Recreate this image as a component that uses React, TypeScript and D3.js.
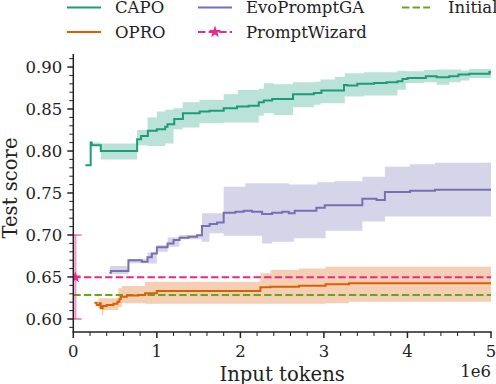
import React from 'react';
import * as d3 from 'd3';

// x values are input tokens in millions (axis shows the 1e6 offset)
const capoTokens = [0.144, 0.208, 0.22, 0.329, 0.764, 0.812, 0.893, 1.0, 1.1, 1.128, 1.208, 1.312, 1.512, 1.632, 1.8, 1.96, 2.1, 2.22, 2.28, 2.38, 2.63, 2.88, 2.97, 3.24, 3.28, 3.4, 3.6, 3.75, 3.88, 3.94, 4.0, 4.22, 4.35, 4.5, 4.61, 4.74, 4.98, 5.0];
const capoScore = [0.783, 0.810, 0.807, 0.800, 0.814, 0.818, 0.824, 0.826, 0.829, 0.832, 0.838, 0.845, 0.847, 0.848, 0.851, 0.853, 0.854, 0.858, 0.860, 0.862, 0.8675, 0.869, 0.872, 0.8786, 0.878, 0.880, 0.881, 0.882, 0.883, 0.8857, 0.887, 0.889, 0.8877, 0.889, 0.891, 0.892, 0.894, 0.894];
const capoBandTokens = [0.208, 0.329, 0.764, 0.89, 1.0, 1.1, 1.2, 1.31, 1.51, 1.8, 1.97, 2.22, 2.28, 2.4, 2.63, 2.88, 2.96, 3.13, 3.25, 3.48, 3.88, 3.98, 4.2, 4.35, 4.5, 4.64, 4.74, 5.0];
const capoLower = [0.806, 0.790, 0.807, 0.806, 0.806, 0.809, 0.826, 0.828, 0.833, 0.834, 0.834, 0.842, 0.845, 0.843, 0.852, 0.855, 0.857, 0.857, 0.865, 0.866, 0.873, 0.881, 0.882, 0.879, 0.882, 0.884, 0.887, 0.887];
const capoUpper = [0.810, 0.809, 0.825, 0.840, 0.847, 0.849, 0.851, 0.858, 0.861, 0.8675, 0.8726, 0.874, 0.8806, 0.8794, 0.8818, 0.8825, 0.885, 0.888, 0.8925, 0.8937, 0.8956, 0.895, 0.8964, 0.897, 0.897, 0.896, 0.8976, 0.8976];

const evoTokens = [0.432, 0.45, 0.66, 0.82, 0.888, 0.94, 1.0, 1.128, 1.2, 1.272, 1.38, 1.48, 1.54, 1.632, 1.72, 1.8, 1.94, 2.04, 2.14, 2.26, 2.38, 2.5, 2.58, 2.65, 2.91, 3.01, 3.46, 3.63, 3.73, 4.03, 4.33, 5.0];
const evoScore = [0.655, 0.657, 0.670, 0.668, 0.6735, 0.678, 0.6853, 0.690, 0.694, 0.6968, 0.698, 0.6996, 0.7107, 0.713, 0.715, 0.7266, 0.7278, 0.729, 0.7278, 0.725, 0.7266, 0.7278, 0.7258, 0.729, 0.7325, 0.7354, 0.7432, 0.7417, 0.7512, 0.7528, 0.754, 0.754];
const evoBandTokens = [0.44, 0.66, 0.89, 1.0, 1.13, 1.27, 1.54, 1.63, 1.8, 2.06, 2.26, 2.38, 2.58, 2.64, 2.92, 3.02, 3.12, 3.46, 3.73, 4.03, 4.33, 5.0];
const evoLower = [0.6536, 0.6663, 0.666, 0.680, 0.686, 0.695, 0.692, 0.702, 0.699, 0.699, 0.690, 0.692, 0.692, 0.696, 0.696, 0.705, 0.705, 0.716, 0.722, 0.722, 0.722, 0.722];
const evoUpper = [0.663, 0.671, 0.679, 0.688, 0.697, 0.700, 0.7258, 0.726, 0.7575, 0.7615, 0.7615, 0.7615, 0.760, 0.760, 0.7627, 0.7627, 0.764, 0.7694, 0.7813, 0.7842, 0.786, 0.786];

const oproTokens = [0.252, 0.28, 0.312, 0.328, 0.352, 0.4, 0.48, 0.528, 0.552, 0.568, 0.64, 0.78, 0.86, 1.0, 2.24, 2.36, 2.7, 3.02, 3.3, 5.0];
const oproScore = [0.6194, 0.6167, 0.6187, 0.6127, 0.6155, 0.6167, 0.618, 0.6206, 0.6234, 0.6266, 0.628, 0.6286, 0.6306, 0.6333, 0.6378, 0.6385, 0.6396, 0.6413, 0.6425, 0.6425];
const oproBandTokens = [0.30, 0.34, 0.36, 0.54, 0.58, 0.86, 2.24, 2.36, 2.7, 3.02, 3.3, 5.0];
const oproLower = [0.6127, 0.6048, 0.6107, 0.614, 0.6187, 0.618, 0.618, 0.618, 0.618, 0.6187, 0.6206, 0.6206];
const oproUpper = [0.6246, 0.6246, 0.6246, 0.6365, 0.6393, 0.6444, 0.6544, 0.6583, 0.660, 0.6623, 0.6623, 0.6623];

// PromptWizard: single point with error bar
const wizardTokens = 0.025;
const wizardScore = 0.6496;
const wizardErr = [0.60, 0.70];
const initialScore = 0.6286;

const xTickLabels = ['0', '1', '2', '3', '4', '5'];
const yTickLabels = ['0.60', '0.65', '0.70', '0.75', '0.80', '0.85', '0.90'];

const legendLabels = ['CAPO', 'OPRO', 'EvoPromptGA', 'PromptWizard', 'Initial'];
const colors = {
  CAPO: '#1b9e77',
  OPRO: '#d95f02',
  EvoPromptGA: '#7570b3',
  PromptWizard: '#e7298a',
  Initial: '#66a61e',
};

const W = 496;
const H = 384;
const FONT = '"DejaVu Serif", serif';

const x = d3.scaleLinear().domain([0, 5]).range([73.3, 491]);
const y = d3.scaleLinear().domain([0.5845, 0.9155]).range([332, 54]);

const stepLine = d3
  .line<[number, number]>()
  .x(d => x(d[0]))
  .y(d => y(d[1]))
  .curve(d3.curveStepAfter);

const stepArea = d3
  .area<[number, number, number]>()
  .x(d => x(d[0]))
  .y0(d => y(d[1]))
  .y1(d => y(d[2]))
  .curve(d3.curveStepAfter);

const zipLine = (xs: number[], ys: number[]) => xs.map((v, i) => [v, ys[i]] as [number, number]);
const zipBand = (xs: number[], lo: number[], hi: number[]) =>
  xs.map((v, i) => [v, lo[i], hi[i]] as [number, number, number]);

const starPath = (r: number) => {
  const pts: string[] = [];
  for (let i = 0; i < 10; i++) {
    const rad = i % 2 === 0 ? r : r * 0.4;
    const a = (Math.PI / 5) * i - Math.PI / 2;
    pts.push(`${(rad * Math.cos(a)).toFixed(2)},${(rad * Math.sin(a)).toFixed(2)}`);
  }
  return `M${pts.join('L')}Z`;
};

const DASH = '7.4 3.2';

const App = () => {
  const bands = [
    { key: 'CAPO', d: stepArea(zipBand(capoBandTokens, capoLower, capoUpper)) },
    { key: 'EvoPromptGA', d: stepArea(zipBand(evoBandTokens, evoLower, evoUpper)) },
    { key: 'OPRO', d: stepArea(zipBand(oproBandTokens, oproLower, oproUpper)) },
  ];
  const lines = [
    { key: 'CAPO', d: stepLine(zipLine(capoTokens, capoScore)) },
    { key: 'EvoPromptGA', d: stepLine(zipLine(evoTokens, evoScore)) },
    { key: 'OPRO', d: stepLine(zipLine(oproTokens, oproScore)) },
  ];

  const yMajor = yTickLabels.map(Number);
  const yMinor = d3.range(59, 92).map(v => v / 100).filter(v => !yMajor.some(m => Math.abs(m - v) < 1e-6));
  const xMajor = xTickLabels.map(Number);
  const xMinor = d3.range(0, 26).map(v => v / 5).filter(v => v % 1 !== 0);

  // legend layout: 3 columns x 2 rows
  const legendPos = [
    { x: 67, y: 7.5 },
    { x: 67, y: 32 },
    { x: 198, y: 7.5 },
    { x: 198, y: 32 },
    { x: 402, y: 7.5 },
  ];

  return (
    <svg width={W} height={H} style={{ position: 'absolute', left: 0, top: 0, background: '#fff' }} fontFamily={FONT}>
      <defs>
        <clipPath id="plot">
          <rect x={x(0)} y={y.range()[1]} width={x(5) - x(0)} height={y.range()[0] - y.range()[1]} />
        </clipPath>
      </defs>

      <g clipPath="url(#plot)">
        {bands.map(b => (
          <path key={b.key} d={b.d || ''} fill={colors[b.key]} fillOpacity={0.3} stroke="none" />
        ))}
        <line x1={x(0)} x2={x(5)} y1={y(initialScore)} y2={y(initialScore)} stroke={colors.Initial} strokeWidth={2} strokeDasharray={DASH} />
        <line x1={x(0)} x2={x(5)} y1={y(wizardScore)} y2={y(wizardScore)} stroke={colors.PromptWizard} strokeWidth={2} strokeDasharray={DASH} />
        {lines.map(l => (
          <path key={l.key} d={l.d || ''} fill="none" stroke={colors[l.key]} strokeWidth={2} />
        ))}
        {/* PromptWizard error bar */}
        <g stroke={colors.PromptWizard} strokeOpacity={0.5} strokeWidth={2}>
          <line x1={x(wizardTokens)} x2={x(wizardTokens)} y1={y(wizardErr[0])} y2={y(wizardErr[1])} />
          <line x1={x(wizardTokens) - 6.3} x2={x(wizardTokens) + 6.3} y1={y(wizardErr[0])} y2={y(wizardErr[0])} />
          <line x1={x(wizardTokens) - 6.3} x2={x(wizardTokens) + 6.3} y1={y(wizardErr[1])} y2={y(wizardErr[1])} />
        </g>
        <path d={starPath(6)} transform={`translate(${x(wizardTokens)},${y(wizardScore)})`} fill={colors.PromptWizard} />
      </g>

      {/* axes */}
      <g stroke="#222">
        <line x1={x(0)} x2={x(0)} y1={y.range()[1]} y2={y.range()[0]} strokeWidth={1.5} />
        <line x1={x(0) - 0.75} x2={x(5) + 0.75} y1={y.range()[0]} y2={y.range()[0]} strokeWidth={1.5} />
        {yMajor.map(v => (
          <line key={'ym' + v} x1={x(0) - 6} x2={x(0)} y1={y(v)} y2={y(v)} strokeWidth={1.5} />
        ))}
        {yMinor.map(v => (
          <line key={'yn' + v} x1={x(0) - 4} x2={x(0)} y1={y(v)} y2={y(v)} strokeWidth={1} />
        ))}
        {xMajor.map(v => (
          <line key={'xm' + v} x1={x(v)} x2={x(v)} y1={y.range()[0]} y2={y.range()[0] + 6} strokeWidth={1.5} />
        ))}
        {xMinor.map(v => (
          <line key={'xn' + v} x1={x(v)} x2={x(v)} y1={y.range()[0]} y2={y.range()[0] + 4} strokeWidth={1} />
        ))}
      </g>

      <g fontSize={16.5} fill="#222">
        {yTickLabels.map(t => (
          <text key={t} x={x(0) - 11} y={y(Number(t))} dy="0.36em" textAnchor="end">
            {t}
          </text>
        ))}
        {xTickLabels.map(t => (
          <text key={t} x={x(Number(t))} y={356.5} textAnchor="middle">
            {t}
          </text>
        ))}
        <text x={491} y={377} textAnchor="end">1e6</text>
      </g>

      <text x={(x(0) + x(5)) / 2} y={381} textAnchor="middle" fontSize={19.6} fill="#222">
        Input tokens
      </text>
      <text transform={`translate(17,188) rotate(-90)`} textAnchor="middle" fontSize={19.6} fill="#222">
        Test score
      </text>

      {/* legend */}
      <g fontSize={16.5} fill="#222">
        {legendLabels.map((name, i) => {
          const p = legendPos[i];
          const dashed = name === 'PromptWizard' || name === 'Initial';
          const len = name === 'Initial' ? 28 : 34;
          return (
            <g key={name}>
              <line x1={p.x} x2={p.x + len} y1={p.y} y2={p.y} stroke={colors[name]} strokeWidth={2} strokeDasharray={dashed ? DASH : undefined} />
              {name === 'PromptWizard' && (
                <path d={starPath(6.5)} transform={`translate(${p.x + 17},${p.y})`} fill={colors[name]} />
              )}
              <text x={p.x + (name === 'Initial' ? 46 : 48)} y={p.y + 5.8}>
                {name}
              </text>
            </g>
          );
        })}
      </g>
    </svg>
  );
};

export default App;
